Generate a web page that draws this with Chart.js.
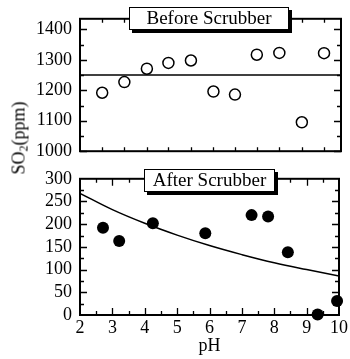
<!DOCTYPE html>
<html>
<head>
<meta charset="utf-8">
<script src="https://cdn.jsdelivr.net/npm/chart.js@4"></script>
<style>
  body { margin: 0; background: #fff; }
  #wrap { position: relative; width: 350px; height: 359px; overflow: hidden; }
  canvas { position: absolute; left: 0; }
  .box {
    position: absolute; box-sizing: border-box; height: 23px;
    border: 1.5px solid #000; background: #fff; box-shadow: 3px 3px 0 #000;
    font: 19px "Liberation Serif", serif; line-height: 20px; text-align: center; color: #000;
  }
  #ytitle {
    position: absolute; left: 20px; top: 138px; transform: translate(-50%, -50%) rotate(-90deg);
    font: 18px "Liberation Serif", serif; white-space: nowrap; color: #000;
  }
  #ytitle sub { font-size: 12px; vertical-align: -3px; }
</style>
</head>
<body>
<div id="wrap">
  <canvas id="topChart" width="350" height="170" style="top:0"></canvas>
  <canvas id="botChart" width="350" height="199" style="top:160px"></canvas>
  <div class="box" style="left:129px; top:7px; width:160px;">Before Scrubber</div>
  <div class="box" style="left:144px; top:169px; width:131px;">After Scrubber</div>
  <div id="ytitle">SO<sub>2</sub>(ppm)</div>
</div>
<script>
// Before scrubber samples
const beforePH = [2.68, 3.36, 4.05, 4.71, 5.40, 6.09, 6.75, 7.42, 8.11, 8.80, 9.48];
const beforeSO2 = [1192, 1227, 1271, 1290, 1298, 1196, 1186, 1317, 1323, 1095, 1322];
const beforeMean = 1250;

// After scrubber samples
const afterPH = [2.71, 3.21, 4.25, 5.87, 7.30, 7.81, 8.42, 9.34, 9.94];
const afterSO2 = [192, 163, 202, 180, 220, 217, 138, 1, 31];

// fitted curve
const fitPH = [2, 3, 4, 5, 6, 7, 8, 9, 10];
const fitSO2 = [268, 232, 202, 176, 153, 133, 115, 100, 86];

// tick positions
const topXTicks = beforePH;
const topYTicks = [1000, 1050, 1100, 1150, 1200, 1250, 1300, 1350, 1400];
const botXTicks = [2.5, 3, 3.5, 4, 4.5, 5, 5.5, 6, 6.5, 7, 7.5, 8, 8.5, 9, 9.5];
const botYTicks = [25, 50, 75, 100, 125, 150, 175, 200, 225, 250, 275];

const font = { family: '"Liberation Serif", serif', size: 18 };

// draw the frame and inward ticks on all four sides
const frameTicks = {
  id: 'frameTicks',
  beforeDatasetsDraw(chart, args, opts) {
    const { ctx, chartArea: a, scales: { x, y } } = chart;
    ctx.save();
    ctx.strokeStyle = '#000';
    ctx.lineWidth = 1.3;
    ctx.beginPath();
    opts.xTicks.forEach(v => {
      const len = opts.xMajor(v) ? 7 : 4;
      const px = Math.round(x.getPixelForValue(v)) + 0.5;
      ctx.moveTo(px, a.bottom); ctx.lineTo(px, a.bottom - len);
      ctx.moveTo(px, a.top); ctx.lineTo(px, a.top + len);
    });
    opts.yTicks.forEach(v => {
      const len = opts.yMajor(v) ? 7 : 4;
      const py = Math.round(y.getPixelForValue(v)) + 0.5;
      ctx.moveTo(a.left, py); ctx.lineTo(a.left + len, py);
      ctx.moveTo(a.right, py); ctx.lineTo(a.right - len, py);
    });
    ctx.stroke();
    ctx.lineWidth = 2;
    ctx.strokeRect(a.left, a.top, a.right - a.left, a.bottom - a.top);
    ctx.restore();
  }
};

const plain = v => String(v);

new Chart(document.getElementById('topChart'), {
  type: 'scatter',
  data: {
    datasets: [{
      type: 'line',
      data: [{ x: 2, y: beforeMean }, { x: 10, y: beforeMean }],
      borderColor: '#000', borderWidth: 1.5, pointRadius: 0
    }, {
      data: beforePH.map((p, i) => ({ x: p, y: beforeSO2[i] })),
      pointRadius: 5.5, pointBorderWidth: 1.5,
      pointBorderColor: '#000', pointBackgroundColor: '#fff'
    }]
  },
  options: {
    responsive: false, animation: false,
    layout: { padding: { top: 12, right: 9, bottom: 17, left: 0 } },
    plugins: {
      legend: { display: false }, tooltip: { enabled: false },
      frameTicks: { xTicks: topXTicks, yTicks: topYTicks, xMajor: () => false, yMajor: v => v % 100 === 0 }
    },
    scales: {
      x: { type: 'linear', min: 2, max: 10, display: false },
      y: {
        min: 1000, max: 1435,
        grid: { display: false, drawTicks: false }, border: { display: false },
        ticks: { stepSize: 100, includeBounds: false, autoSkip: false, color: '#000', font: font, padding: 8, callback: plain },
        afterFit: s => { s.width = 80; }
      }
    }
  },
  plugins: [frameTicks]
});

new Chart(document.getElementById('botChart'), {
  type: 'scatter',
  data: {
    datasets: [{
      type: 'line',
      data: fitPH.map((p, i) => ({ x: p, y: fitSO2[i] })),
      borderColor: '#000', borderWidth: 1.5, pointRadius: 0, tension: 0.4
    }, {
      data: afterPH.map((p, i) => ({ x: p, y: afterSO2[i] })),
      pointRadius: 6, pointBorderWidth: 0,
      pointBackgroundColor: '#000', clip: false
    }]
  },
  options: {
    responsive: false, animation: false,
    layout: { padding: { top: 15, right: 9, bottom: 0, left: 0 } },
    plugins: {
      legend: { display: false }, tooltip: { enabled: false },
      frameTicks: { xTicks: botXTicks, yTicks: botYTicks, xMajor: v => v % 1 === 0, yMajor: v => v % 50 === 0 }
    },
    scales: {
      x: {
        type: 'linear', min: 2, max: 10,
        grid: { display: false, drawTicks: false }, border: { display: false },
        ticks: { stepSize: 1, autoSkip: false, color: '#000', font: font, padding: 2, maxRotation: 0, callback: plain },
        title: { display: true, text: 'pH', color: '#000', font: font, padding: { top: 0, bottom: 2 } },
        afterFit: s => { s.height = 44; }
      },
      y: {
        min: 0, max: 300,
        grid: { display: false, drawTicks: false }, border: { display: false },
        ticks: { stepSize: 50, autoSkip: false, color: '#000', font: font, padding: 8, callback: plain },
        afterFit: s => { s.width = 80; }
      }
    }
  },
  plugins: [frameTicks]
});
</script>
</body>
</html>
